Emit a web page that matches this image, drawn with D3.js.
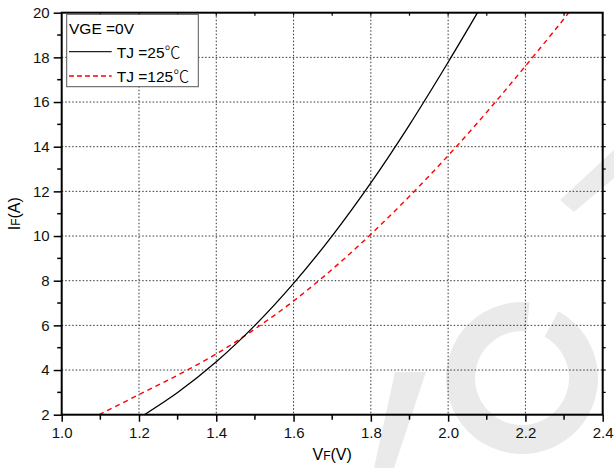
<!DOCTYPE html>
<html><head><meta charset="utf-8">
<script src="https://cdn.jsdelivr.net/npm/d3@7"></script>
<style>
html,body{margin:0;padding:0;background:#fff;}
svg{display:block;font-family:"Liberation Sans",Arial,sans-serif;}
</style></head>
<body>
<svg id="chart" width="614" height="468"></svg>
<script>
// Data
const vfTicks = [1.0,1.2,1.4,1.6,1.8,2.0,2.2,2.4];
const ifTicks = [2,4,6,8,10,12,14,16,18,20];
const vf25 = [1.214,1.3,1.4,1.5,1.6,1.7,1.8,1.9,2.0,2.076];
const if25 = [2,2.99,4.37,6.0,7.88,10.01,12.38,14.98,17.78,20];
const vf125 = [1.097,1.2,1.3,1.4,1.5,1.6,1.7,1.8,1.9,2.0,2.1,2.2,2.3,2.312];
const if125 = [2,2.9,3.77,4.72,5.84,7.09,8.51,10.08,11.78,13.6,15.55,17.61,19.73,20];
const legendTitle = "VGE =0V";
const seriesNames = ["TJ =25","TJ =125"];
const unitSymbol = "\u2103";

const svg = d3.select("#chart");
const L = 61.7, R = 602.7, T = 12.7, B = 414.7;
const x = d3.scaleLinear().domain([1.0,2.4]).range([L,R]);
const y = d3.scaleLinear().domain([2,20]).range([B,T]);

// faint watermark
const wm = svg.append("g").attr("fill","#e4e4e4").attr("opacity",0.75);
wm.append("path").attr("fill-rule","evenodd")
  .attr("d", d3.arc().innerRadius(47).outerRadius(76).startAngle(0.5).endAngle(2*Math.PI+0.1)())
  .attr("transform","translate(522,378)");
wm.append("path").attr("d","M395,372 L426,372 L394,468 L374,468 Z");
wm.append("path").attr("d","M560,200 L614,150 L614,178 L574,212 Z");

// grid
const grid = svg.append("g").attr("stroke","#333").attr("stroke-width",1).attr("stroke-dasharray","1.5,2");
vfTicks.filter(v=>v>1.0 && v<2.4).forEach(v=>{
  grid.append("line").attr("x1",x(v)).attr("x2",x(v)).attr("y1",T).attr("y2",B);
});
ifTicks.filter(v=>v>2 && v<20).forEach(v=>{
  grid.append("line").attr("x1",L).attr("x2",R).attr("y1",y(v)).attr("y2",y(v));
});

// axes
const fontSize = 15;
const xAxis = d3.axisBottom(x).tickValues(vfTicks).tickFormat(d3.format(".1f")).tickSize(7).tickPadding(6);
const gx = svg.append("g").attr("transform",`translate(0,${B})`).call(xAxis);
const yAxis = d3.axisLeft(y).tickValues(ifTicks).tickFormat(d3.format("d")).tickSize(8).tickPadding(4);
const gy = svg.append("g").attr("transform",`translate(${L},0)`).call(yAxis);
[gx,gy].forEach(g=>{
  g.select(".domain").remove();
  g.selectAll(".tick line").attr("stroke","#000").attr("stroke-width",1.5);
  g.selectAll(".tick text").attr("font-size",fontSize).attr("fill","#111").attr("font-family","Liberation Sans, Arial, sans-serif");
});
// minor ticks
const xMinor = d3.range(1.1,2.4,0.2);
const yMinor = d3.range(3,20,2);
const tk = svg.append("g").attr("stroke","#000").attr("stroke-width",1.5);
xMinor.forEach(v=>tk.append("line").attr("x1",x(v)).attr("x2",x(v)).attr("y1",B).attr("y2",B+5));
yMinor.forEach(v=>tk.append("line").attr("x1",L-4.5).attr("x2",L).attr("y1",y(v)).attr("y2",y(v)));
// top and right mirrored small ticks
d3.range(1.1,2.4,0.1).forEach(v=>tk.append("line").attr("x1",x(v)).attr("x2",x(v)).attr("y1",T).attr("y2",T+3).attr("stroke-width",1.2));
d3.range(3,20,1).forEach(v=>tk.append("line").attr("x1",R).attr("x2",R+3).attr("y1",y(v)).attr("y2",y(v)).attr("stroke-width",1.2));

// curves
const line = d3.line().x(d=>x(d[0])).y(d=>y(d[1])).curve(d3.curveCatmullRom.alpha(0.5));
const d25 = vf25.map((v,i)=>[v,if25[i]]);
const d125 = vf125.map((v,i)=>[v,if125[i]]);
svg.append("path").datum(d125).attr("d",line).attr("fill","none").attr("stroke","#ff0000").attr("stroke-width",1.4).attr("stroke-dasharray","5,4");
svg.append("path").datum(d25).attr("d",line).attr("fill","none").attr("stroke","#000").attr("stroke-width",1.3);

// frame
svg.append("rect").attr("x",L).attr("y",T).attr("width",R-L).attr("height",B-T)
  .attr("fill","none").attr("stroke","#000").attr("stroke-width",2);

// legend
const lg = svg.append("g");
lg.append("rect").attr("x",66.7).attr("y",14.3).attr("width",131.6).attr("height",72.4)
  .attr("fill","#fff").attr("stroke","#555").attr("stroke-width",1);
lg.append("text").attr("x",69).attr("y",33.5).attr("font-size",15.5).attr("fill","#000").text(legendTitle);
lg.append("line").attr("x1",69).attr("x2",111.7).attr("y1",51.7).attr("y2",51.7).attr("stroke","#222").attr("stroke-width",1.3);
const t1 = lg.append("text").attr("x",116.7).attr("y",58).attr("font-size",15.5).attr("fill","#000");
t1.append("tspan").text(seriesNames[0]);
t1.append("tspan").attr("font-family","Noto Sans CJK SC").attr("font-weight",300).attr("font-size",16).text(unitSymbol);
lg.append("line").attr("x1",69).attr("x2",111.7).attr("y1",76).attr("y2",76).attr("stroke","#ff0000").attr("stroke-width",1.3).attr("stroke-dasharray","5,3");
const t2 = lg.append("text").attr("x",116.7).attr("y",82).attr("font-size",15.5).attr("fill","#000");
t2.append("tspan").text(seriesNames[1]);
t2.append("tspan").attr("font-family","Noto Sans CJK SC").attr("font-weight",300).attr("font-size",16).text(unitSymbol);

// axis titles
const xt = svg.append("text").attr("x",(L+R)/2).attr("y",460).attr("text-anchor","middle").attr("font-size",16).attr("fill","#000");
xt.append("tspan").text("V");
xt.append("tspan").attr("font-size",12).text("F");
xt.append("tspan").text("(V)");
const yt = svg.append("text").attr("transform",`translate(19.5,${(T+B)/2}) rotate(-90)`).attr("text-anchor","middle").attr("font-size",16).attr("fill","#000");
yt.append("tspan").text("I");
yt.append("tspan").attr("font-size",12).text("F");
yt.append("tspan").text("(A)");
</script>
</body></html>
